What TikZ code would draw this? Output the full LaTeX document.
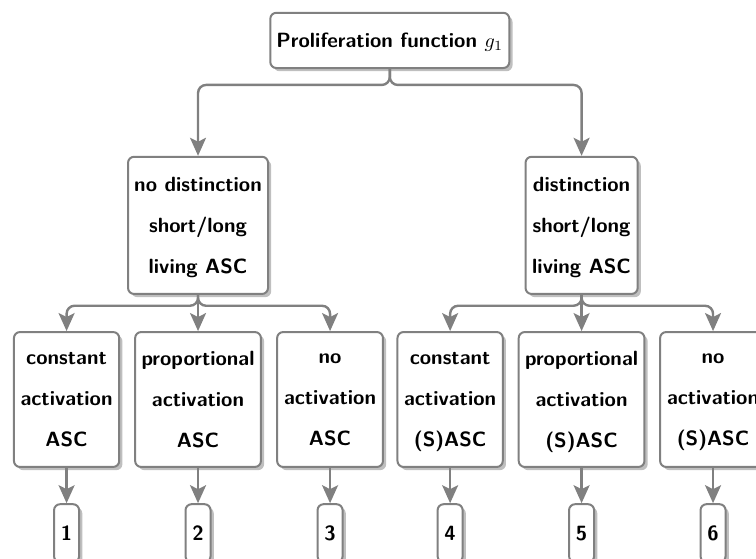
\documentclass[tikz,border=0pt]{standalone}
\usepackage{amsmath, amssymb}
\usepackage{tikz}
\usetikzlibrary{arrows.meta, shadows, positioning, calc}

\begin{document}
\begin{tikzpicture}[
    >={Stealth[length=9pt, width=8pt, inset=2pt]}
]
    \tikzset{
        caja/.style={rectangle, draw=gray, line width=1pt, rounded corners=3pt, fill=white,
            align=center, inner sep=0pt, text depth=-3pt,
            font=\fontsize{10.3pt}{20.5pt}\selectfont\sffamily\bfseries,
            drop shadow={shadow xshift=1.6pt, shadow yshift=-1.6pt, fill=black!25, opacity=1}},
        numero/.style={caja, minimum width=0.44cm, minimum height=1.02cm, text depth=0pt},
        flecha/.style={draw=gray, line width=1.2pt, rounded corners=4pt, ->}
    }

    \clip (0,0) rectangle (13.285,-9.806);

    % Nodos
    \node[caja, minimum width=4.20cm, minimum height=0.97cm, text depth=0.5pt] (raiz)
        at (6.85,-0.71) {Proliferation function $g_1$};
    \node[caja, minimum width=2.46cm, minimum height=2.41cm] (izq) at (3.48,-3.96)
        {no distinction\\short/long\\living ASC};
    \node[caja, minimum width=1.97cm, minimum height=2.41cm] (der) at (10.22,-3.96)
        {distinction\\short/long\\living ASC};

    \node[caja, minimum width=1.85cm, minimum height=2.37cm] (c1) at (1.17,-7.02)
        {constant\\activation\\ASC};
    \node[caja, minimum width=2.21cm, minimum height=2.37cm] (c2) at (3.48,-7.02)
        {proportional\\activation\\ASC};
    \node[caja, minimum width=1.86cm, minimum height=2.37cm] (c3) at (5.80,-7.02)
        {no\\activation\\ASC};
    \node[caja, minimum width=1.85cm, minimum height=2.37cm] (c4) at (7.91,-7.02)
        {constant\\activation\\(S)ASC};
    \node[caja, minimum width=2.21cm, minimum height=2.37cm] (c5) at (10.22,-7.02)
        {proportional\\activation\\(S)ASC};
    \node[caja, minimum width=1.86cm, minimum height=2.37cm] (c6) at (12.53,-7.02)
        {no\\activation\\(S)ASC};

    \node[numero] (n1) at (1.17,-9.37)  {1};
    \node[numero] (n2) at (3.48,-9.37)  {2};
    \node[numero] (n3) at (5.80,-9.37)  {3};
    \node[numero] (n4) at (7.91,-9.37)  {4};
    \node[numero] (n5) at (10.22,-9.37) {5};
    \node[numero] (n6) at (12.53,-9.37) {6};

    % Aristas
    \draw[flecha] (raiz.south) -- ++(0,-0.28) -| (izq.north);
    \draw[flecha] (raiz.south) -- ++(0,-0.28) -| (der.north);
    \foreach \c in {c1,c2,c3}
        \draw[flecha] (izq.south) -- ++(0,-0.19) -| (\c.north);
    \foreach \c in {c4,c5,c6}
        \draw[flecha] (der.south) -- ++(0,-0.19) -| (\c.north);
    \foreach \i in {1,...,6}
        \draw[flecha] (c\i.south) -- (n\i.north);
\end{tikzpicture}
\end{document}
